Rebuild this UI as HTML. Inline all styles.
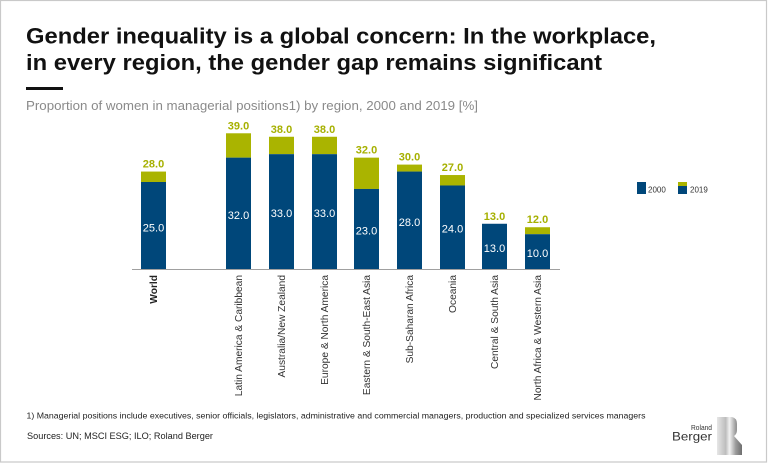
<!DOCTYPE html>
<html>
<head>
<meta charset="utf-8">
<style>
  html,body{margin:0;padding:0;background:#fff;}
  svg{display:block;}
  text{font-family:"Liberation Sans", Arial, sans-serif;}
</style>
</head>
<body>
<svg width="768" height="464" viewBox="0 0 768 464" xmlns="http://www.w3.org/2000/svg">
  <rect x="0" y="0" width="768" height="464" fill="#fff"/>
  <rect x="0.5" y="0.5" width="766" height="461.5" fill="none" stroke="#c9c9c9" stroke-width="1.2"/>

  <!-- Title -->
  <text x="26" y="43.5" font-size="22" font-weight="bold" fill="#111" textLength="630" lengthAdjust="spacingAndGlyphs">Gender inequality is a global concern: In the workplace,</text>
  <text x="26" y="70" font-size="22" font-weight="bold" fill="#111" textLength="576" lengthAdjust="spacingAndGlyphs">in every region, the gender gap remains significant</text>
  <rect x="26" y="87" width="37" height="3" fill="#111"/>
  <text x="26" y="110" font-size="13" fill="#8a8a8a" textLength="452" lengthAdjust="spacingAndGlyphs">Proportion of women in managerial positions1) by region, 2000 and 2019 [%]</text>

  <!-- Axis -->
  <line x1="132" y1="269.5" x2="560" y2="269.5" stroke="#a0a0a0" stroke-width="1"/>

  <g>
    <!-- World -->
    <rect x="141" y="171.56" width="25" height="10.44" fill="#aab400"/>
    <rect x="141" y="182" width="25" height="87" fill="#00477a"/>
    <!-- Latin -->
    <rect x="226" y="133.28" width="25" height="24.36" fill="#aab400"/>
    <rect x="226" y="157.64" width="25" height="111.36" fill="#00477a"/>
    <!-- Aus -->
    <rect x="269" y="136.76" width="25" height="17.4" fill="#aab400"/>
    <rect x="269" y="154.16" width="25" height="114.84" fill="#00477a"/>
    <!-- Eur -->
    <rect x="312" y="136.76" width="25" height="17.4" fill="#aab400"/>
    <rect x="312" y="154.16" width="25" height="114.84" fill="#00477a"/>
    <!-- East -->
    <rect x="354" y="157.64" width="25" height="31.32" fill="#aab400"/>
    <rect x="354" y="188.96" width="25" height="80.04" fill="#00477a"/>
    <!-- SubS -->
    <rect x="397" y="164.6" width="25" height="6.96" fill="#aab400"/>
    <rect x="397" y="171.56" width="25" height="97.44" fill="#00477a"/>
    <!-- Oceania -->
    <rect x="440" y="175.04" width="25" height="10.44" fill="#aab400"/>
    <rect x="440" y="185.48" width="25" height="83.52" fill="#00477a"/>
    <!-- Central -->
    <rect x="482" y="223.76" width="25" height="45.24" fill="#00477a"/>
    <!-- NAf -->
    <rect x="525" y="227.24" width="25" height="6.96" fill="#aab400"/>
    <rect x="525" y="234.2" width="25" height="34.8" fill="#00477a"/>
  </g>

  <!-- Top labels -->
  <g font-size="11" font-weight="bold" fill="#a6b000" text-anchor="middle">
    <text x="153.5" y="167.5">28.0</text>
    <text x="238.5" y="129.3">39.0</text>
    <text x="281.5" y="132.8">38.0</text>
    <text x="324.5" y="132.8">38.0</text>
    <text x="366.5" y="153.6">32.0</text>
    <text x="409.5" y="160.6">30.0</text>
    <text x="452.5" y="171">27.0</text>
    <text x="494.5" y="219.8">13.0</text>
    <text x="537.5" y="223.2">12.0</text>
  </g>

  <!-- Inside labels -->
  <g font-size="11" fill="#ffffff" text-anchor="middle">
    <text x="153.5" y="231.3">25.0</text>
    <text x="238.5" y="218.8">32.0</text>
    <text x="281.5" y="217.1">33.0</text>
    <text x="324.5" y="217.1">33.0</text>
    <text x="366.5" y="234.5">23.0</text>
    <text x="409.5" y="225.8">28.0</text>
    <text x="452.5" y="232.7">24.0</text>
    <text x="494.5" y="251.9">13.0</text>
    <text x="537.5" y="257.1">10.0</text>
  </g>

  <!-- Category labels -->
  <g font-size="10.2" fill="#333" text-anchor="end">
    <text transform="translate(157,275) rotate(-90)" font-weight="bold" fill="#222">World</text>
    <text transform="translate(242,275) rotate(-90)">Latin America &amp; Caribbean</text>
    <text transform="translate(285,275) rotate(-90)">Australia/New Zealand</text>
    <text transform="translate(328,275) rotate(-90)">Europe &amp; North America</text>
    <text transform="translate(370,275) rotate(-90)">Eastern &amp; South-East Asia</text>
    <text transform="translate(413,275) rotate(-90)">Sub-Saharan Africa</text>
    <text transform="translate(456,275) rotate(-90)">Oceania</text>
    <text transform="translate(498,275) rotate(-90)">Central &amp; South Asia</text>
    <text transform="translate(541,275) rotate(-90)">North Africa &amp; Western Asia</text>
  </g>

  <!-- Legend -->
  <rect x="637" y="182" width="9" height="12" fill="#00477a"/>
  <text x="648" y="192.5" font-size="8" fill="#333">2000</text>
  <rect x="678" y="182" width="9" height="4" fill="#aab400"/>
  <rect x="678" y="186" width="9" height="8" fill="#00477a"/>
  <text x="690" y="192.5" font-size="8" fill="#333">2019</text>

  <!-- Footnotes -->
  <text x="26.5" y="418.7" font-size="8.6" fill="#222" textLength="619" lengthAdjust="spacingAndGlyphs">1) Managerial positions include executives, senior officials, legislators, administrative and commercial managers, production and specialized services managers</text>
  <text x="27" y="439" font-size="9" fill="#222" textLength="186" lengthAdjust="spacingAndGlyphs">Sources: UN; MSCI ESG; ILO; Roland Berger</text>

  <!-- Logo -->
  <defs>
    <linearGradient id="bg" x1="0" y1="0" x2="1" y2="0">
      <stop offset="0" stop-color="#e6e6e6"/>
      <stop offset="0.35" stop-color="#bdbdbd"/>
      <stop offset="0.5" stop-color="#f2f2f2"/>
      <stop offset="0.75" stop-color="#9a9a9a"/>
      <stop offset="1" stop-color="#6e6e6e"/>
    </linearGradient>
  </defs>
  <text x="691" y="430" font-size="7" fill="#333" textLength="21" lengthAdjust="spacingAndGlyphs">Roland</text>
  <text x="672" y="440.5" font-size="12" fill="#333" textLength="40" lengthAdjust="spacingAndGlyphs">Berger</text>
  <path d="M717,417 L732,417 Q737,418 737,424 L737,430 Q737,434 734,436 L742,445 L742,455 L717,455 Z" fill="url(#bg)"/>
</svg>
</body>
</html>
